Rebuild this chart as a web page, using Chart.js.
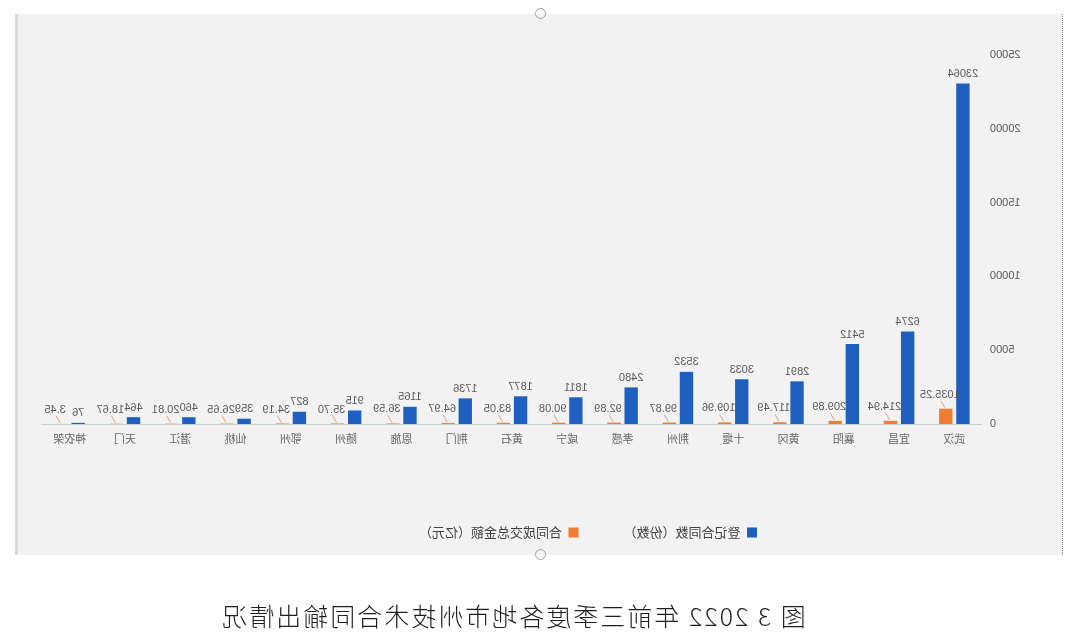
<!DOCTYPE html>
<html lang="zh-CN">
<head>
<meta charset="utf-8">
<title>图 3 2022 年前三季度各地市州技术合同输出情况</title>
<script src="https://cdn.jsdelivr.net/npm/chart.js@4/dist/chart.umd.min.js"></script>
<style>
  html, body { margin: 0; padding: 0; background: #fff; }
  /* the reference is a horizontally mirrored screenshot, so flip the whole page */
  .page { position: relative; width: 1080px; height: 636px; overflow: hidden; transform: scaleX(-1); }
  .frame { position: absolute; left: 17px; top: 14px; width: 1044px; height: 541px; background: #f2f2f2;
           border-left: 1px dotted #8c8c8c; border-right: 3px solid #d3dcd8; }
  .frame canvas { position: absolute; left: 0; top: -1px; }
  .handle { position: absolute; left: 534px; width: 9px; height: 9px; border: 1px solid #a0a0a0; border-radius: 50%; }
  .caption { position: absolute; left: 0; top: 597px; width: 1134px; text-align: center; line-height: 30px;
             font: 300 25px "Noto Sans CJK SC", sans-serif; color: #1e1e1e; letter-spacing: 2px; }
</style>
</head>
<body>
<div class="page">
  <div class="frame">
    <canvas id="chartKontrak" width="1044" height="542"></canvas>
  </div>
  <div class="handle" style="top:8px"></div>
  <div class="handle" style="top:549px"></div>
  <div class="caption">图 3 2022 年前三季度各地市州技术合同输出情况</div>
</div>
<script>
const cities = ["武汉","宜昌","襄阳","黄冈","十堰","荆州","孝感","咸宁","黄石","荆门","恩施","随州","鄂州","仙桃","潜江","天门","神农架"];
const contractCounts  = [23064, 6274, 5412, 2891, 3033, 3532, 2480, 1811, 1877, 1736, 1165, 915, 827, 359, 460, 464, 76];
const contractAmounts = [1035.25, 214.94, 209.89, 117.49, 109.96, 99.87, 92.89, 90.08, 83.05, 64.97, 36.59, 35.70, 34.19, 26.65, 20.81, 18.67, 3.45];
const yTicks = [0, 5000, 10000, 15000, 20000, 25000];

const BLUE = "#1f5fc0";
const ORANGE = "#ee7d31";
const GREY_TXT = "#595959";
const CJK = '"Noto Sans CJK SC", "Microsoft YaHei", sans-serif';

// value labels above the bars (orange ones sit up-right with a tiny leader)
const barLabels = {
  id: "barLabels",
  afterDatasetsDraw(chart){
    const ctx = chart.ctx;
    ctx.save();
    ctx.font = '11px "Liberation Sans", sans-serif';
    ctx.fillStyle = GREY_TXT;
    ctx.textAlign = "center";
    ctx.textBaseline = "bottom";
    chart.getDatasetMeta(0).data.forEach((bar, i)=>{
      ctx.fillText(String(contractCounts[i]), bar.x, bar.y - 4);
    });
    ctx.textBaseline = "middle";
    ctx.strokeStyle = "rgba(214,140,95,0.75)";
    ctx.lineWidth = 1;
    chart.getDatasetMeta(1).data.forEach((bar, i)=>{
      ctx.beginPath();
      ctx.moveTo(bar.x + 1, bar.y - 1);
      ctx.lineTo(bar.x + 5, bar.y - 8);
      ctx.stroke();
      ctx.fillText(contractAmounts[i].toFixed(2), bar.x + 6, bar.y - 14);
    });
    ctx.restore();
  }
};

// legend in the picture is a bit left of centre
const legendShift = {
  id: "legendShift",
  afterLayout(chart){
    if(!chart.legend) return;
    chart.legend.left -= 36;
    chart.legend.right -= 36;
  }
};

new Chart(document.getElementById("chartKontrak").getContext("2d"), {
  type: "bar",
  data: {
    labels: cities,
    datasets: [
      { label: "登记合同数（份数）", data: contractCounts, backgroundColor: BLUE, borderWidth: 0 },
      { label: "合同成交总金额（亿元）", data: contractAmounts, backgroundColor: ORANGE, borderWidth: 0 }
    ]
  },
  options: {
    responsive: false,
    animation: false,
    categoryPercentage: 0.62,
    barPercentage: 0.78,
    layout: { padding: { left: 0, right: 24, top: 42, bottom: 6 } },
    plugins: {
      tooltip: { enabled: false },
      legend: {
        position: "bottom",
        labels: { color: "#404040", font: { family: CJK, size: 13 }, boxWidth: 10, boxHeight: 10, padding: 45 }
      }
    },
    scales: {
      x: {
        grid: { display: false, drawTicks: false },
        border: { display: true, color: "#c5d2c6", width: 1 },
        ticks: { color: "#666", font: { family: CJK, size: 11 }, padding: 8, maxRotation: 0, autoSkip: false },
        afterFit(s){ s.height = 57; }
      },
      y: {
        min: 0, max: 25000,
        grid: { display: false, drawTicks: false },
        border: { display: false },
        ticks: { color: GREY_TXT, font: { family: '"Liberation Sans", sans-serif', size: 11 }, padding: 8,
                 callback: v => String(v) },
        afterBuildTicks(s){ s.ticks = yTicks.map(v=>({ value: v })); },
        afterFit(s){ s.width = 80; }
      }
    }
  },
  plugins: [barLabels, legendShift]
});
</script>
</body>
</html>
